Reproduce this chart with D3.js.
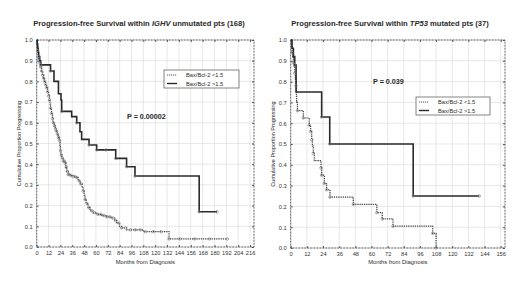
<!DOCTYPE html>
<html>
<head>
<meta charset="utf-8">
<script src="https://cdn.jsdelivr.net/npm/d3@7"></script>
<style>
  body { margin: 0; background: #fff; }
  text { font-family: "Liberation Sans", Arial, sans-serif; fill: #2a2a2a; }
</style>
</head>
<body>
<svg id="chart" width="520" height="283"></svg>
<script>
// ---- data: [months, proportion] after each step ----
var ighvLow = [[0,1],[0.5,0.97],[1,0.95],[1.5,0.93],[2,0.91],[3,0.89],[4,0.87],[5,0.85],[6,0.83],[7,0.815],
  [8,0.8],[9,0.785],[10,0.77],[11,0.75],[12,0.73],[13,0.71],[13.5,0.69],[14,0.67],[15,0.645],[16,0.62],
  [16.5,0.6],[18,0.585],[19,0.57],[20,0.56],[21,0.545],[22,0.53],[23,0.515],[23.6,0.49],[24,0.465],
  [24.5,0.445],[25.3,0.43],[27,0.415],[28.6,0.405],[29.5,0.385],[30.5,0.365],[32,0.35],[34,0.345],
  [37,0.34],[40,0.335],[42,0.32],[44,0.305],[46,0.29],[47,0.27],[48,0.25],[49,0.23],[50,0.21],[52,0.19],
  [54,0.175],[57,0.165],[61,0.158],[66,0.152],[71,0.146],[75,0.14],[79,0.128],[81,0.116],[84,0.1],
  [86,0.092],[91,0.083],[108,0.074],[134,0.039],[193,0.039]];
var ighvHigh = [[0,1],[0.5,0.98],[1,0.96],[1.5,0.94],[2,0.92],[3,0.9],[4,0.88],[14,0.85],[17.5,0.8],
  [22,0.74],[24.6,0.71],[25.3,0.655],[35.4,0.63],[40.5,0.6],[43.8,0.557],[45.5,0.52],[53,0.493],
  [60.7,0.469],[80,0.428],[91,0.388],[99.5,0.343],[164.5,0.17],[182.5,0.17]];
var tp53Low = [[0,1],[0.5,0.97],[1,0.94],[1.5,0.92],[2,0.89],[2.5,0.87],[3,0.84],[3.5,0.81],[3.9,0.78],
  [4.2,0.73],[4.4,0.7],[5,0.66],[9.4,0.625],[13.8,0.59],[14.8,0.56],[15.6,0.52],[16.1,0.49],[16.8,0.455],
  [17.5,0.42],[22.5,0.385],[23,0.35],[25,0.31],[26.7,0.28],[29.2,0.245],[46.5,0.21],[64,0.17],[68,0.14],
  [76,0.105],[105.5,0.07],[108,0]];
var tp53High = [[0,1],[1,0.96],[2,0.92],[3,0.88],[4,0.75],[23,0.63],[29,0.5],[91,0.25],[140,0.25]];

// censored observations (months)
var ighvLowCens = [1,2,3,4,5,6,7,8,9,10,11,12,13,14,15,16,17,18,19,20,21,22,23,24,25,26,27,28,29,30,31,
  32,33,35,37,39,41,43,45,47,49,51,53,56,59,62,65,68,71,74,77,80,83,86,90,95,100,105,110,118,126,134,
  145,160,175,193];
var ighvHighCens = [2,4,14,25.3,40.5,53,60.7,70,80,91,99.5,164.5,182.5];
var tp53LowCens = [1,2,3,4,5,9.4,13.8,14.8,15.6,16.8,22.5,23,25,26.7,29.2,46.5,64,68,76,105.5,108];
var tp53HighCens = [3,23,29,91,140];

var legendLabels = ["Bax/Bcl-2 <1.5", "Bax/Bcl-2 >1.5"];
var yTicks = [0,0.1,0.2,0.3,0.4,0.5,0.6,0.7,0.8,0.9,1.0];

var svg = d3.select("#chart");

function stepValue(pts, t) {
  var v = pts[0][1];
  pts.forEach(function(p) { if (p[0] <= t) v = p[1]; });
  return v;
}

function drawPanel(cfg) {
  var x = d3.scaleLinear().domain([0, cfg.xMax]).range([cfg.left, cfg.right]);
  var y = d3.scaleLinear().domain([0, 1]).range([cfg.bottom, cfg.top]);
  var g = svg.append("g");

  // grid
  g.selectAll(".gx").data(cfg.xTicks).join("line")
    .attr("x1", function(d) { return x(d); }).attr("x2", function(d) { return x(d); })
    .attr("y1", cfg.top).attr("y2", cfg.bottom)
    .attr("stroke", "#dedede").attr("stroke-width", 0.7);
  g.selectAll(".gy").data(yTicks).join("line")
    .attr("x1", cfg.left).attr("x2", cfg.right)
    .attr("y1", function(d) { return y(d); }).attr("y2", function(d) { return y(d); })
    .attr("stroke", "#dedede").attr("stroke-width", 0.7);

  // frame
  g.append("rect")
    .attr("x", cfg.left).attr("y", cfg.top)
    .attr("width", cfg.right - cfg.left).attr("height", cfg.bottom - cfg.top)
    .attr("fill", "none").attr("stroke", "#555").attr("stroke-width", 0.9)
    .attr("stroke-dasharray", "2,1");

  // axes
  var xa = g.append("g").attr("transform", "translate(0," + cfg.bottom + ")")
    .call(d3.axisBottom(x).tickValues(cfg.xTicks).tickSize(-2).tickPadding(4));
  var ya = g.append("g").attr("transform", "translate(" + cfg.left + ",0)")
    .call(d3.axisLeft(y).tickValues(yTicks).tickSize(-2).tickPadding(4).tickFormat(d3.format(".1f")));
  [xa, ya].forEach(function(a) {
    a.select(".domain").remove();
    a.selectAll("line").attr("stroke", "#555");
    a.selectAll("text").style("font-size", "5.7px").style("fill", "#333");
  });
  g.append("g").attr("transform", "translate(0," + cfg.top + ")")
    .call(d3.axisTop(x).tickValues(cfg.xTicks).tickSize(-2).tickFormat(""))
    .call(function(a) { a.select(".domain").remove(); a.selectAll("line").attr("stroke", "#555"); });
  g.append("g").attr("transform", "translate(" + cfg.right + ",0)")
    .call(d3.axisRight(y).tickValues(yTicks).tickSize(-2).tickFormat(""))
    .call(function(a) { a.select(".domain").remove(); a.selectAll("line").attr("stroke", "#555"); });

  // titles
  g.append("text").attr("x", cfg.titleX).attr("y", 26).attr("text-anchor", "middle")
    .style("font-size", "7.6px").style("font-weight", "bold")
    .selectAll("tspan").data(cfg.title).join("tspan")
    .style("font-style", function(d, i) { return i === 1 ? "italic" : "normal"; })
    .text(function(d) { return d; });
  g.append("text").attr("x", (cfg.left + cfg.right) / 2).attr("y", 264).attr("text-anchor", "middle")
    .style("font-size", "5.8px").text("Months from Diagnosis");
  g.append("text").attr("transform", "translate(" + cfg.yLabelX + "," + (cfg.top + cfg.bottom) / 2 + ") rotate(-90)")
    .attr("text-anchor", "middle").style("font-size", "5.5px").text("Cumulative Proportion Progressing");

  // curves
  var line = d3.line().curve(d3.curveStepAfter)
    .x(function(d) { return x(d[0]); }).y(function(d) { return y(d[1]); });
  g.append("path").datum(cfg.low).attr("d", line).attr("fill", "none")
    .attr("stroke", "#444").attr("stroke-width", 1.2).attr("stroke-dasharray", "1.3,0.9");
  g.append("path").datum(cfg.high).attr("d", line).attr("fill", "none")
    .attr("stroke", "#2a2a2a").attr("stroke-width", 1.6);

  // censor marks
  g.selectAll(".cl").data(cfg.lowCens).join("circle")
    .attr("cx", function(d) { return x(d); }).attr("cy", function(d) { return y(stepValue(cfg.low, d)); })
    .attr("r", 1.3).attr("fill", "none").attr("stroke", "#777").attr("stroke-width", 0.6);
  g.selectAll(".ch").data(cfg.highCens).join("circle")
    .attr("cx", function(d) { return x(d); }).attr("cy", function(d) { return y(stepValue(cfg.high, d)); })
    .attr("r", 1.3).attr("fill", "none").attr("stroke", "#777").attr("stroke-width", 0.6);

  // p value
  g.append("text").attr("x", cfg.pX).attr("y", cfg.pY)
    .style("font-size", "7.2px").style("font-weight", "bold").text(cfg.pText);

  // legend
  var lg = g.append("g").attr("transform", "translate(" + cfg.legX + "," + cfg.legY + ")");
  lg.append("rect").attr("width", cfg.legW).attr("height", 18)
    .attr("fill", "#fff").attr("stroke", "#666").attr("stroke-width", 0.8);
  legendLabels.forEach(function(lbl, i) {
    var ly = 5 + i * 8.5;
    lg.append("line").attr("x1", 3).attr("x2", 13).attr("y1", ly).attr("y2", ly)
      .attr("stroke", i === 0 ? "#555" : "#2a2a2a").attr("stroke-width", i === 0 ? 1 : 1.4)
      .attr("stroke-dasharray", i === 0 ? "1.2,0.8" : null);
    lg.append("text").attr("x", 22).attr("y", ly + 2).style("font-size", "5.7px").text(lbl);
  });
}

drawPanel({
  left: 36.7, right: 254, top: 40, bottom: 247, xMax: 220,
  xTicks: d3.range(0, 217, 12), titleX: 139, yLabelX: 21,
  title: ["Progression-free Survival within ", "IGHV", " unmutated pts (168)"],
  low: ighvLow, high: ighvHigh, lowCens: ighvLowCens, highCens: ighvHighCens,
  pText: "P = 0.00002", pX: 127, pY: 119, legX: 164, legY: 70, legW: 75
});
drawPanel({
  left: 290.7, right: 505, top: 40, bottom: 248, xMax: 159.2,
  xTicks: d3.range(0, 157, 12), titleX: 390, yLabelX: 275,
  title: ["Progression-free Survival within ", "TP53", " mutated pts (37)"],
  low: tp53Low, high: tp53High, lowCens: tp53LowCens, highCens: tp53HighCens,
  pText: "P = 0.039", pX: 373, pY: 84, legX: 416, legY: 97, legW: 74
});
</script>
</body>
</html>
